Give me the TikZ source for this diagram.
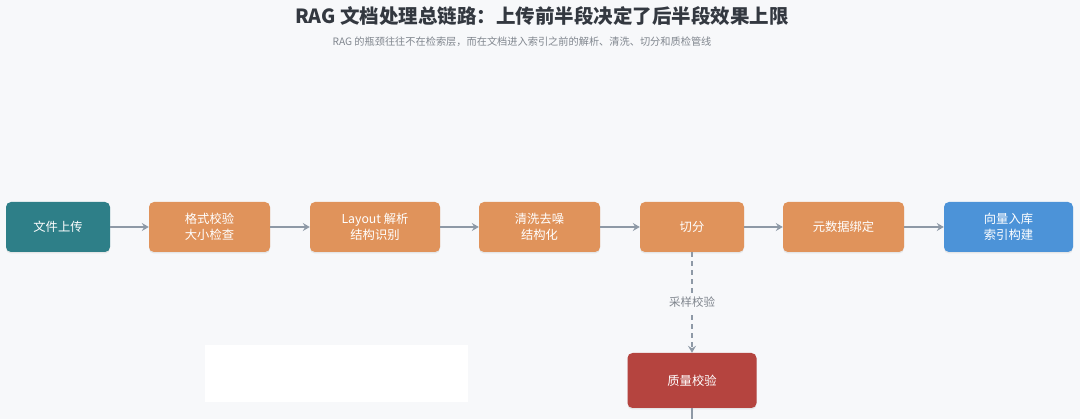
\documentclass[tikz,border=0pt]{standalone}
\usepackage{fontspec}
\setmainfont{Noto Sans CJK SC}
\usetikzlibrary{arrows.meta,shadows}
\definecolor{bgc}{HTML}{F7F8FA}
\definecolor{tealc}{HTML}{2E7F88}
\definecolor{orangec}{HTML}{E0935B}
\definecolor{bluec}{HTML}{4C93D8}
\definecolor{redc}{HTML}{B5443F}
\definecolor{linec}{HTML}{8E99A6}
\definecolor{titlec}{HTML}{333840}
\definecolor{subc}{HTML}{80868E}
\tikzset{
  box/.style={rounded corners=5pt, minimum height=50pt, text=white, align=center,
    font=\fontsize{12.3pt}{15.5pt}\selectfont, inner sep=0pt,
    drop shadow={shadow xshift=0pt, shadow yshift=-1.5pt, opacity=0.15}},
  conn/.style={draw=linec, line width=1.2pt, -{Stealth[length=7pt,width=8pt,inset=2.5pt]}},
  dconn/.style={conn, dash pattern=on 5pt off 4pt},
  lbl/.style={font=\fontsize{11.5pt}{13pt}\selectfont, text=subc, fill=bgc, inner sep=3pt}
}
\begin{document}
\begin{tikzpicture}[x=1pt,y=-1pt]
\fill[bgc] (0,0) rectangle (1080,419);
\useasboundingbox (0,0) rectangle (1080,419);
\fill[white] (205,345) rectangle (468,402);
\node[font=\bfseries\fontsize{19.5pt}{22pt}\selectfont, text=titlec] (title) at (542,16) {RAG 文档处理总链路：上传前半段决定了后半段效果上限};
\node[font=\fontsize{10.2pt}{12pt}\selectfont, text=subc] (sub) at (522,42) {RAG 的瓶颈往往不在检索层，而在文档进入索引之前的解析、清洗、切分和质检管线};
\node[box, fill=tealc, minimum width=104pt] (a) at (58,227) {文件上传};
\node[box, fill=orangec, minimum width=121pt] (b) at (209.5,227) {格式校验\\大小检查};
\node[box, fill=orangec, minimum width=130pt] (c) at (375,227) {Layout 解析\\结构识别};
\node[box, fill=orangec, minimum width=121pt] (d) at (539.5,227) {清洗去噪\\结构化};
\node[box, fill=orangec, minimum width=104pt] (e) at (692,227) {切分};
\node[box, fill=orangec, minimum width=121pt] (f) at (843.5,227) {元数据绑定};
\node[box, fill=bluec, minimum width=129pt] (g) at (1008.5,227) {向量入库\\索引构建};
\node[box, fill=redc, minimum width=129pt, minimum height=55pt] (q) at (692,380.5) {质量校验};
\coordinate (qend) at (692,419);
\draw[conn] (a) -- (b);
\draw[conn] (b) -- (c);
\draw[conn] (c) -- (d);
\draw[conn] (d) -- (e);
\draw[conn] (e) -- (f);
\draw[conn] (f) -- (g);
\draw[dconn] (e) -- node[lbl] (sl) {采样校验} (q);
\draw[draw=linec, line width=1.2pt] (q) -- (qend);
\end{tikzpicture}
\end{document}
